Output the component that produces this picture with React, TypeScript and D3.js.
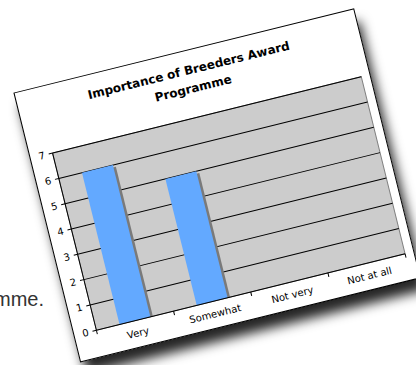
import React from "react";
import * as d3 from "d3";

const categories = ["Very", "Somewhat", "Not very", "Not at all"];
const values = [6, 5, 0, 0];
const yTicks = [0, 1, 2, 3, 4, 5, 6, 7];
const titleLines = ["Importance of Breeders Award", "Programme"];

const W = 416;
const H = 365;
const paperW = 350;
const paperH = 277;
const plot = { left: 23, top: 67.6, width: 318, height: 182.5 };
const angle = -13.9;

export default function App() {
  const x = d3
    .scaleBand<string>()
    .domain(categories)
    .range([0, plot.width])
    .paddingInner(0.6)
    .paddingOuter(0.3);
  const y = d3.scaleLinear().domain([0, 7]).range([plot.height, 0]);
  const step = x.step();
  const font = "'DejaVu Sans', Verdana, sans-serif";

  return (
    <svg
      width={W}
      height={H}
      style={{ position: "fixed", left: 0, top: 0, display: "block", background: "#fff" }}
    >
      <defs>
        <filter id="paperShadow" x="-20%" y="-20%" width="150%" height="150%">
          <feDropShadow dx="6" dy="12" stdDeviation="6" floodColor="#000" floodOpacity="0.85" />
        </filter>
        <clipPath id="plotClip">
          <rect x={0} y={0} width={plot.width} height={plot.height} />
        </clipPath>
      </defs>

      {/* page text behind the sheet */}
      <text
        x={44}
        y={306}
        textAnchor="end"
        fontFamily="'Liberation Sans', Helvetica, Arial, sans-serif"
        fontSize={20}
        fill="#333"
      >
        Programme.
      </text>

      {/* sheet shadow */}
      <g filter="url(#paperShadow)">
        <g transform={`translate(14,93) rotate(${angle})`}>
          <rect x={0} y={0} width={paperW} height={paperH} fill="#fff" />
        </g>
      </g>

      <g transform={`translate(14,93) rotate(${angle})`}>
        <rect x={0} y={0} width={paperW} height={paperH} fill="#fff" stroke="#000" strokeWidth={1} />

        {titleLines.map((t, i) => (
          <text
            key={t}
            x={paperW / 2}
            y={24 + i * 18.5}
            textAnchor="middle"
            fontFamily={font}
            fontWeight="bold"
            fontSize={12}
            fill="#000"
          >
            {t}
          </text>
        ))}

        <g transform={`translate(${plot.left},${plot.top})`}>
          <rect
            x={0}
            y={0}
            width={plot.width}
            height={plot.height}
            fill="#cccccc"
            stroke="#808080"
            strokeWidth={1}
          />
          {yTicks.slice(1).map((t) => (
            <line
              key={`g${t}`}
              x1={0}
              x2={plot.width}
              y1={y(t)}
              y2={y(t)}
              stroke="#000"
              strokeWidth={1}
            />
          ))}

          <g clipPath="url(#plotClip)">
            {categories.map((c, i) => (
              <rect
                key={`s${c}`}
                x={(x(c) ?? 0) + 2.5}
                y={y(values[i]) + 2.5}
                width={x.bandwidth()}
                height={plot.height - y(values[i])}
                fill="#7a7a7a"
              />
            ))}
          </g>
          {categories.map((c, i) => (
            <rect
              key={`b${c}`}
              x={x(c) ?? 0}
              y={y(values[i])}
              width={x.bandwidth()}
              height={plot.height - y(values[i])}
              fill="#63a9ff"
            />
          ))}

          {/* value axis */}
          <line x1={0} x2={0} y1={0} y2={plot.height} stroke="#000" />
          {yTicks.map((t) => (
            <g key={`y${t}`} transform={`translate(0,${y(t)})`}>
              <line x1={-4} x2={0} stroke="#000" />
              <text
                x={-8}
                dy="0.35em"
                textAnchor="end"
                fontFamily={font}
                fontSize={10}
                fill="#000"
              >
                {t}
              </text>
            </g>
          ))}

          {/* category axis */}
          <line x1={0} x2={plot.width} y1={plot.height} y2={plot.height} stroke="#000" />
          {d3.range(categories.length + 1).map((i) => (
            <line
              key={`xt${i}`}
              x1={i * step}
              x2={i * step}
              y1={plot.height}
              y2={plot.height + 4}
              stroke="#000"
            />
          ))}
          {categories.map((c) => (
            <text
              key={`xl${c}`}
              x={(x(c) ?? 0) + x.bandwidth() / 2}
              y={plot.height + 16}
              textAnchor="middle"
              fontFamily={font}
              fontSize={10}
              fill="#000"
            >
              {c}
            </text>
          ))}
        </g>
      </g>
    </svg>
  );
}
